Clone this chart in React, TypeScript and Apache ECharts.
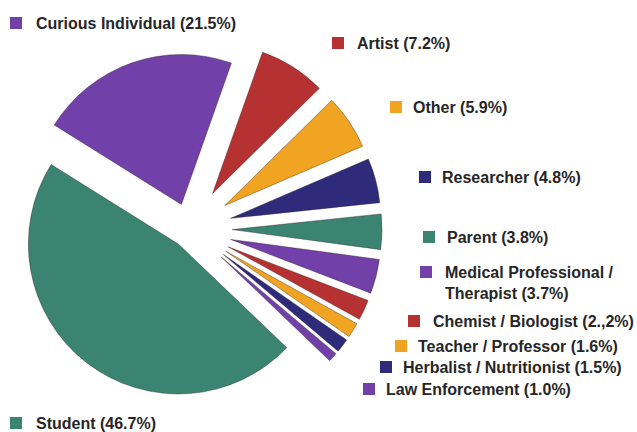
import React, { useEffect, useRef } from "react";
import * as echarts from "echarts";

const categories = [
  "Curious Individual",
  "Artist",
  "Other",
  "Researcher",
  "Parent",
  "Medical Professional / Therapist",
  "Chemist / Biologist",
  "Teacher / Professor",
  "Herbalist / Nutritionist",
  "Law Enforcement",
  "Student",
];
const values = [21.5, 7.2, 5.9, 4.8, 3.8, 3.7, 2.2, 1.6, 1.5, 1.0, 46.7];
const legendLabels = [
  "Curious Individual (21.5%)",
  "Artist (7.2%)",
  "Other (5.9%)",
  "Researcher (4.8%)",
  "Parent (3.8%)",
  "Medical Professional /\nTherapist (3.7%)",
  "Chemist / Biologist (2.,2%)",
  "Teacher / Professor (1.6%)",
  "Herbalist / Nutritionist (1.5%)",
  "Law Enforcement (1.0%)",
  "Student (46.7%)",
];

const PURPLE = "#7140a9";
const RED = "#b63132";
const ORANGE = "#f1a322";
const NAVY = "#2f2b7b";
const GREEN = "#3a8471";
const colors = [PURPLE, RED, ORANGE, NAVY, GREEN, PURPLE, RED, ORANGE, NAVY, PURPLE, GREEN];

// explode distance per slice (px)
const explode = [26, 42, 42, 42, 42, 42, 42, 42, 42, 42, 19];
// legend placement: [squareX, squareY, textX, textCenterY]
const legendPos = [
  [10, 17, 36, 23],
  [332, 37, 357, 43],
  [390, 101, 413, 107],
  [419, 171, 442, 177],
  [423, 231, 447, 237],
  [420, 266, 445, 282.5],
  [408, 315, 433, 321],
  [395, 340, 418, 346],
  [380, 361, 403, 367],
  [363, 383, 386, 389],
  [10, 417, 36, 423],
];

const CX = 190;
const CY = 229;
const R = 150;
const START = 148;

export default function App() {
  const ref = useRef<HTMLDivElement>(null);
  useEffect(() => {
    if (!ref.current) return;
    const chart = echarts.init(ref.current, null, { renderer: "svg" });
    const total = values.reduce((a, b) => a + b, 0);
    let cum = 0;
    const series: any[] = values.map((v, i) => {
      const a0 = START - (360 * cum) / total;
      const a1 = a0 - (360 * v) / total;
      cum += v;
      const mid = ((a0 + a1) / 2) * (Math.PI / 180);
      const cx = CX + explode[i] * Math.cos(mid);
      const cy = CY - explode[i] * Math.sin(mid);
      return {
        type: "pie",
        silent: true,
        center: [cx, cy],
        radius: [0, R],
        startAngle: START,
        clockwise: true,
        minAngle: 0,
        avoidLabelOverlap: false,
        label: { show: false },
        labelLine: { show: false },
        data: categories.map((c, j) => ({
          name: c,
          value: values[j],
          itemStyle:
            j === i
              ? { color: colors[j], borderColor: "rgba(40,20,20,0.45)", borderWidth: 0.8 }
              : { color: "rgba(0,0,0,0)", borderWidth: 0 },
        })),
      };
    });

    const graphics: any[] = [];
    legendLabels.forEach((t, i) => {
      const [sx, sy, tx, ty] = legendPos[i];
      graphics.push({
        type: "rect",
        shape: { x: sx, y: sy, width: 12, height: 12 },
        style: { fill: colors[i] },
        silent: true,
      });
      graphics.push({
        type: "text",
        x: tx,
        y: ty,
        style: {
          text: t,
          fill: "#262626",
          font: "bold 16px 'Liberation Sans', Arial, sans-serif",
          textVerticalAlign: "middle",
          verticalAlign: "middle",
          lineHeight: 21,
        },
        silent: true,
      });
    });

    chart.setOption({
      animation: false,
      backgroundColor: "#ffffff",
      series,
      graphic: { elements: graphics },
    });
    return () => chart.dispose();
  }, []);
  return (
    <div
      ref={ref}
      style={{ position: "fixed", left: 0, top: 0, width: 637, height: 432 }}
    />
  );
}
